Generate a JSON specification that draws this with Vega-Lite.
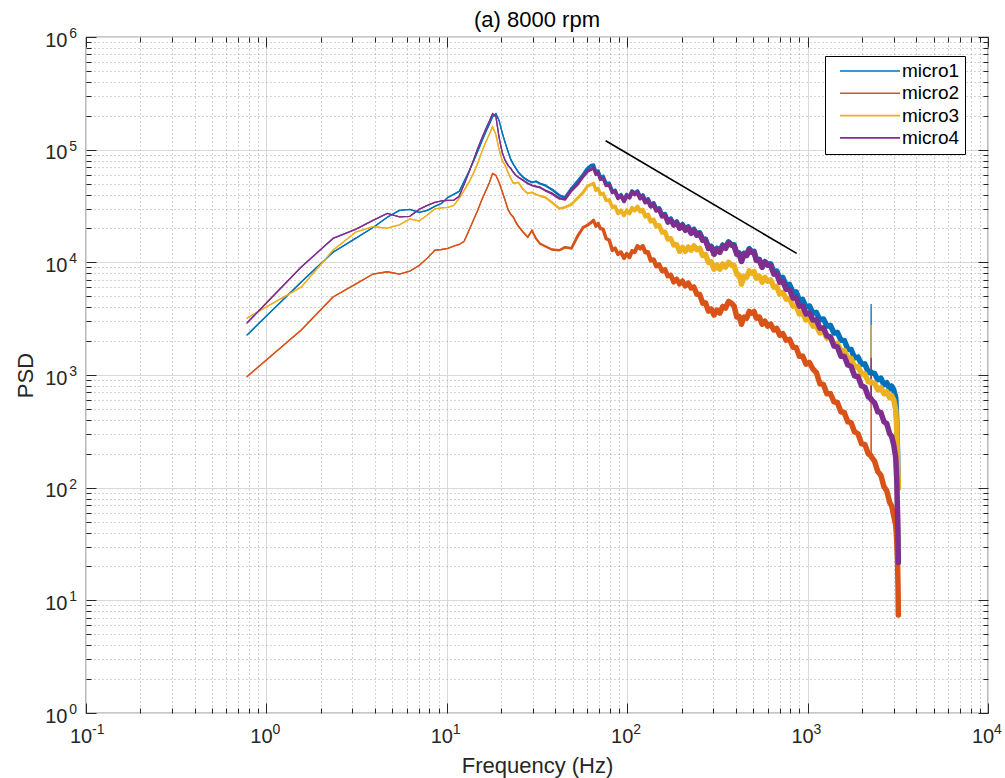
{
  "$schema": "https://vega.github.io/schema/vega-lite/v6.json",
  "width": 902,
  "height": 676,
  "autosize": {"type": "none"},
  "padding": {"left": 86, "top": 37, "right": 17, "bottom": 65},
  "background": "white",
  "config": {
    "view": {"stroke": "#262626", "strokeWidth": 1.2},
    "font": "Liberation Sans",
    "axis": {"domain": false, "labelFont": "Liberation Sans", "titleFont": "Liberation Sans", "labelColor": "#262626", "titleColor": "#262626", "tickColor": "#262626", "titleFontWeight": "normal", "labelFlush": false, "labelOverlap": false}
  },
  "title": {"text": "(a) 8000 rpm", "fontSize": 22, "fontWeight": "normal", "color": "#000000", "offset": -5, "font": "Liberation Sans"},
  "datasets": {
    "psd": [
      {"f":0.78,"micro1":2260,"micro2":965,"micro3":3200,"micro4":2890},
      {"f":1.56,"micro1":6680,"micro2":2510,"micro3":6030,"micro4":9080},
      {"f":2.34,"micro1":12300,"micro2":4920,"micro3":12800,"micro4":16300},
      {"f":3.12,"micro1":16300,"micro2":6410,"micro3":18500,"micro4":19600},
      {"f":3.90,"micro1":20400,"micro2":7870,"micro3":20700,"micro4":23600},
      {"f":4.68,"micro1":25100,"micro2":8250,"micro3":20100,"micro4":27200},
      {"f":5.46,"micro1":28900,"micro2":7870,"micro3":21500,"micro4":25300},
      {"f":6.24,"micro1":29500,"micro2":8370,"micro3":24300,"micro4":25600},
      {"f":7.02,"micro1":27800,"micro2":9360,"micro3":23300,"micro4":29500},
      {"f":7.80,"micro1":28900,"micro2":10900,"micro3":26300,"micro4":32000},
      {"f":8.58,"micro1":31400,"micro2":12800,"micro3":29800,"micro4":34100},
      {"f":9.36,"micro1":33400,"micro2":13000,"micro3":30400,"micro4":35100},
      {"f":10.14,"micro1":37700,"micro2":13300,"micro3":30800,"micro4":35500},
      {"f":10.92,"micro1":40100,"micro2":13900,"micro3":32000,"micro4":35500},
      {"f":11.70,"micro1":42600,"micro2":14400,"micro3":37000,"micro4":38500},
      {"f":12.48,"micro1":52300,"micro2":15400,"micro3":43500,"micro4":49200},
      {"f":13.26,"micro1":64100,"micro2":19200,"micro3":51200,"micro4":62900},
      {"f":14.04,"micro1":78700,"micro2":23600,"micro3":61600,"micro4":80300},
      {"f":14.82,"micro1":96500,"micro2":28900,"micro3":75500,"micro4":102000},
      {"f":15.60,"micro1":117800,"micro2":35500,"micro3":94600,"micro4":125200},
      {"f":16.38,"micro1":141500,"micro2":42600,"micro3":115400,"micro4":150500},
      {"f":17.16,"micro1":166600,"micro2":50200,"micro3":135800,"micro4":177200},
      {"f":17.94,"micro1":196200,"micro2":61600,"micro3":160000,"micro4":208600},
      {"f":18.72,"micro1":208600,"micro2":59100,"micro3":135800,"micro4":196200},
      {"f":19.50,"micro1":180800,"micro2":51200,"micro3":100000,"micro4":127800},
      {"f":20.28,"micro1":141500,"micro2":42600,"micro3":80300,"micro4":94600},
      {"f":21.06,"micro1":115400,"micro2":35500,"micro3":72500,"micro4":80300},
      {"f":21.84,"micro1":96500,"micro2":29500,"micro3":62900,"micro4":72500},
      {"f":22.62,"micro1":82000,"micro2":26700,"micro3":55600,"micro4":68200},
      {"f":23.40,"micro1":74000,"micro2":25100,"micro3":50200,"micro4":62900},
      {"f":24.18,"micro1":68200,"micro2":22600,"micro3":50700,"micro4":59100},
      {"f":24.96,"micro1":62900,"micro2":20900,"micro3":51200,"micro4":56800},
      {"f":26.52,"micro1":56800,"micro2":18500,"micro3":44400,"micro4":53400},
      {"f":28.08,"micro1":53400,"micro2":16700,"micro3":40900,"micro4":50200},
      {"f":29.64,"micro1":51200,"micro2":19200,"micro3":41800,"micro4":48200},
      {"f":31.2,"micro1":52300,"micro2":16300,"micro3":40100,"micro4":47200},
      {"f":32.76,"micro1":50200,"micro2":14700,"micro3":38900,"micro4":46300},
      {"f":35.1,"micro1":48200,"micro2":13900,"micro3":37700,"micro4":43500},
      {"f":38.2,"micro1":44400,"micro2":13000,"micro3":34100,"micro4":40900},
      {"f":42.1,"micro1":39300,"micro2":12800,"micro3":30100,"micro4":37000},
      {"f":45.2,"micro1":37700,"micro2":13600,"micro3":30800,"micro4":36200},
      {"f":49.1,"micro1":45300,"micro2":13300,"micro3":32700,"micro4":43500},
      {"f":53.0,"micro1":52300,"micro2":17000,"micro3":37000,"micro4":49200},
      {"f":57.0,"micro1":60300,"micro2":20400,"micro3":41800,"micro4":57900},
      {"f":60.1,"micro1":68200,"micro2":21300,"micro3":47200,"micro4":64100},
      {"f":63.2,"micro1":72500,"micro2":22600,"micro3":49200,"micro4":66800},
      {"f":65.1,"micro1":73300,"micro2":23600,"micro3":50200,"micro4":68900},
      {"f":67.1,"micro1":62900,"micro2":20900,"micro3":43500,"micro4":60300},
      {"f":69.0,"micro1":64800,"micro2":22100,"micro3":45300,"micro4":62200},
      {"f":71.0,"micro1":56800,"micro2":20000,"micro3":40100,"micro4":54500},
      {"f":73.6,"micro1":57900,"micro2":19600,"micro3":40900,"micro4":55600},
      {"f":76.4,"micro1":50200,"micro2":16300,"micro3":35500,"micro4":48200},
      {"f":79.5,"micro1":50200,"micro2":15700,"micro3":35800,"micro4":48700},
      {"f":82.7,"micro1":42600,"micro2":12800,"micro3":30800,"micro4":41800},
      {"f":85.7,"micro1":43500,"micro2":13300,"micro3":31400,"micro4":42600},
      {"f":88.9,"micro1":37700,"micro2":11800,"micro3":27200,"micro4":37000},
      {"f":92.4,"micro1":39700,"micro2":12300,"micro3":28900,"micro4":38900},
      {"f":96.0,"micro1":35500,"micro2":10900,"micro3":26100,"micro4":34800},
      {"f":99.4,"micro1":39700,"micro2":11900,"micro3":28900,"micro4":39300},
      {"f":103,"micro1":37700,"micro2":11100,"micro3":27200,"micro4":37700},
      {"f":106.4,"micro1":42600,"micro2":12600,"micro3":30400,"micro4":42200},
      {"f":110,"micro1":40900,"micro2":12300,"micro3":28900,"micro4":40100},
      {"f":114,"micro1":42600,"micro2":13900,"micro3":31100,"micro4":41800},
      {"f":118,"micro1":37700,"micro2":13300,"micro3":28300,"micro4":37000},
      {"f":122,"micro1":39300,"micro2":13900,"micro3":29200,"micro4":38500},
      {"f":126,"micro1":34800,"micro2":12300,"micro3":25600,"micro4":34100},
      {"f":130.4,"micro1":36200,"micro2":12300,"micro3":26400,"micro4":35500},
      {"f":135,"micro1":32000,"micro2":10400,"micro3":23100,"micro4":31400},
      {"f":140,"micro1":33400,"micro2":10600,"micro3":23800,"micro4":32700},
      {"f":145,"micro1":29500,"micro2":9260,"micro3":20900,"micro4":28900},
      {"f":150.4,"micro1":30100,"micro2":9550,"micro3":21300,"micro4":29500},
      {"f":156,"micro1":26100,"micro2":8370,"micro3":18500,"micro4":25600},
      {"f":162,"micro1":26700,"micro2":8630,"micro3":18600,"micro4":26100},
      {"f":168,"micro1":23100,"micro2":7550,"micro3":16000,"micro4":22600},
      {"f":174.4,"micro1":24300,"micro2":7710,"micro3":16300,"micro4":23800},
      {"f":181,"micro1":21700,"micro2":6680,"micro3":14200,"micro4":21300},
      {"f":188,"micro1":22900,"micro2":7100,"micro3":14400,"micro4":22400},
      {"f":195,"micro1":20400,"micro2":6410,"micro3":12500,"micro4":20000},
      {"f":202.4,"micro1":21700,"micro2":6820,"micro3":13600,"micro4":21300},
      {"f":210,"micro1":19600,"micro2":6160,"micro3":12500,"micro4":19200},
      {"f":218,"micro1":20700,"micro2":6550,"micro3":13700,"micro4":20200},
      {"f":226,"micro1":18500,"micro2":5910,"micro3":12800,"micro4":18100},
      {"f":234.3,"micro1":19600,"micro2":6030,"micro3":14000,"micro4":19200},
      {"f":243,"micro1":17700,"micro2":5230,"micro3":13000,"micro4":17400},
      {"f":252.3,"micro1":18300,"micro2":5180,"micro3":13300,"micro4":17900},
      {"f":262,"micro1":16000,"micro2":4350,"micro3":11500,"micro4":15700},
      {"f":271.8,"micro1":16000,"micro2":4350,"micro3":11700,"micro4":15700},
      {"f":282,"micro1":13600,"micro2":3700,"micro3":10000,"micro4":13300},
      {"f":292.3,"micro1":13900,"micro2":3850,"micro3":10100,"micro4":13600},
      {"f":303,"micro1":12000,"micro2":3410,"micro3":8710,"micro4":11800},
      {"f":314.3,"micro1":13300,"micro2":3770,"micro3":9460,"micro4":13000},
      {"f":326,"micro1":12500,"micro2":3550,"micro3":8710,"micro4":12300},
      {"f":338.3,"micro1":14200,"micro2":4050,"micro3":9650,"micro4":13900},
      {"f":351,"micro1":13600,"micro2":3930,"micro3":9080,"micro4":13300},
      {"f":364.3,"micro1":15200,"micro2":4490,"micro3":10000,"micro4":14900},
      {"f":378,"micro1":14400,"micro2":4350,"micro3":9460,"micro4":14200},
      {"f":391.3,"micro1":14300,"micro2":4090,"micro3":9360,"micro4":14000},
      {"f":405,"micro1":12000,"micro2":3270,"micro3":7870,"micro4":11800},
      {"f":417.3,"micro1":12100,"micro2":3300,"micro3":7710,"micro4":11900},
      {"f":430,"micro1":10400,"micro2":2830,"micro3":6410,"micro4":10200},
      {"f":444.8,"micro1":12000,"micro2":3270,"micro3":7480,"micro4":11800},
      {"f":460,"micro1":11800,"micro2":3200,"micro3":7400,"micro4":11500},
      {"f":474.8,"micro1":13200,"micro2":3660,"micro3":8370,"micro4":12900},
      {"f":490,"micro1":12500,"micro2":3550,"micro3":8030,"micro4":12300},
      {"f":504.8,"micro1":12500,"micro2":3660,"micro3":8280,"micro4":12300},
      {"f":520,"micro1":10600,"micro2":3200,"micro3":7250,"micro4":10400},
      {"f":539.7,"micro1":10600,"micro2":3270,"micro3":7550,"micro4":10500},
      {"f":560,"micro1":9080,"micro2":2830,"micro3":6680,"micro4":9080},
      {"f":579.7,"micro1":10150,"micro2":3010,"micro3":7330,"micro4":10000},
      {"f":600,"micro1":9650,"micro2":2720,"micro3":6820,"micro4":9460},
      {"f":624.5,"micro1":9650,"micro2":2830,"micro3":6960,"micro4":9360},
      {"f":650,"micro1":8200,"micro2":2510,"micro3":6030,"micro4":7870},
      {"f":674.6,"micro1":8370,"micro2":2590,"micro3":6100,"micro4":7870},
      {"f":700,"micro1":7250,"micro2":2260,"micro3":5230,"micro4":6680},
      {"f":729.4,"micro1":7330,"micro2":2330,"micro3":5390,"micro4":6750},
      {"f":760,"micro1":6290,"micro2":2040,"micro3":4720,"micro4":5790},
      {"f":794.2,"micro1":6350,"micro2":2070,"micro3":4770,"micro4":5730},
      {"f":830,"micro1":5450,"micro2":1770,"micro3":4090,"micro4":4820},
      {"f":864.3,"micro1":5450,"micro2":1750,"micro3":4090,"micro4":4820},
      {"f":900,"micro1":4630,"micro2":1470,"micro3":3480,"micro4":4090},
      {"f":939.1,"micro1":4670,"micro2":1470,"micro3":3550,"micro4":4090},
      {"f":980,"micro1":4010,"micro2":1250,"micro3":3080,"micro4":3480},
      {"f":1024,"micro1":4090,"micro2":1290,"micro3":3140,"micro4":3550},
      {"f":1070,"micro1":3550,"micro2":1130,"micro3":2720,"micro4":3080},
      {"f":1119,"micro1":3580,"micro2":1050,"micro3":2750,"micro4":3080},
      {"f":1170,"micro1":3080,"micro2":837,"micro3":2360,"micro4":2610},
      {"f":1224,"micro1":3140,"micro2":820,"micro3":2430,"micro4":2610},
      {"f":1280,"micro1":2720,"micro2":682,"micro3":2130,"micro4":2220},
      {"f":1339,"micro1":2750,"micro2":682,"micro3":2170,"micro4":2170},
      {"f":1400,"micro1":2360,"micro2":579,"micro3":1880,"micro4":1810},
      {"f":1464,"micro1":2380,"micro2":568,"micro3":1900,"micro4":1770},
      {"f":1530,"micro1":2040,"micro2":472,"micro3":1630,"micro4":1470},
      {"f":1598,"micro1":2020,"micro2":463,"micro3":1650,"micro4":1460},
      {"f":1670,"micro1":1700,"micro2":385,"micro3":1420,"micro4":1230},
      {"f":1743,"micro1":1680,"micro2":377,"micro3":1400,"micro4":1190},
      {"f":1820,"micro1":1420,"micro2":314,"micro3":1180,"micro4":985},
      {"f":1903,"micro1":1440,"micro2":301,"micro3":1190,"micro4":965},
      {"f":1990,"micro1":1250,"micro2":246,"micro3":1020,"micro4":803},
      {"f":2078,"micro1":1250,"micro2":241,"micro3":1020,"micro4":779},
      {"f":2170,"micro1":1060,"micro2":200,"micro3":871,"micro4":641},
      {"f":2245,"micro1":1060,"micro2":192,"micro3":871,"micro4":616},
      {"f":2250,"micro1":4260,"micro2":965,"micro3":2780,"micro4":1420},
      {"f":2255,"micro1":1040,"micro2":188,"micro3":854,"micro4":603},
      {"f":2350,"micro1":1030,"micro2":172,"micro3":845,"micro4":568},
      {"f":2450,"micro1":908,"micro2":139,"micro3":740,"micro4":472},
      {"f":2548,"micro1":936,"micro2":129,"micro3":771,"micro4":463},
      {"f":2650,"micro1":820,"micro2":102,"micro3":682,"micro4":385},
      {"f":2748,"micro1":854,"micro2":93.6,"micro3":710,"micro4":370},
      {"f":2850,"micro1":755,"micro2":74.0,"micro3":629,"micro4":301},
      {"f":2924,"micro1":795,"micro2":68.9,"micro3":655,"micro4":286},
      {"f":3000,"micro1":740,"micro2":56.7,"micro3":603,"micro4":241},
      {"f":3080,"micro1":629,"micro2":46.3,"micro3":492,"micro4":185},
      {"f":3120,"micro1":401,"micro2":34.1,"micro3":327,"micro4":118},
      {"f":3150,"micro1":217,"micro2":22.6,"micro3":177,"micro4":62.9},
      {"f":3170,"micro1":118,"micro2":13.6,"micro3":130,"micro4":41.8},
      {"f":3185,"micro1":100,"micro2":7.4,"micro3":100,"micro4":21.7}
    ],
    "ref": [
      {"f":76,"p":120000},
      {"f":870,"p":12000}
    ],
    "dummy": [{"a":1,"b":1}],
    "xexp": [
      {"v":0.1,"e":"-1"},{"v":1,"e":"0"},{"v":10,"e":"1"},{"v":100,"e":"2"},{"v":1000,"e":"3"},{"v":10000,"e":"4"}
    ],
    "yexp": [
      {"v":1,"e":"0"},{"v":10,"e":"1"},{"v":100,"e":"2"},{"v":1000,"e":"3"},{"v":10000,"e":"4"},{"v":100000,"e":"5"},{"v":1000000,"e":"6"}
    ]
  },
  "layer": [
    {
      "data": {"name": "dummy"},
      "mark": {"type": "point", "opacity": 0},
      "encoding": {
        "x": {"field": "a", "type": "quantitative", "scale": {"type": "log", "domain": [0.1, 10000], "nice": false},
          "axis": {"orient": "bottom", "values": [0.2,0.3,0.4,0.5,0.6,0.7,0.8,0.9,2,3,4,5,6,7,8,9,20,30,40,50,60,70,80,90,200,300,400,500,600,700,800,900,2000,3000,4000,5000,6000,7000,8000,9000], "labels": false, "tickSize": -5, "tickWidth": 1, "grid": true, "gridDash": [1,3], "gridColor": "#a6a6a6", "gridWidth": 1, "title": null}},
        "y": {"field": "b", "type": "quantitative", "scale": {"type": "log", "domain": [1, 1000000], "nice": false},
          "axis": {"orient": "left", "values": [2,3,4,5,6,7,8,9,20,30,40,50,60,70,80,90,200,300,400,500,600,700,800,900,2000,3000,4000,5000,6000,7000,8000,9000,20000,30000,40000,50000,60000,70000,80000,90000,200000,300000,400000,500000,600000,700000,800000,900000], "labels": false, "tickSize": -5, "tickWidth": 1, "grid": true, "gridDash": [1,3], "gridColor": "#a6a6a6", "gridWidth": 1, "title": null}}
      }
    },
    {
      "data": {"name": "psd"},
      "transform": [{"fold": ["micro1", "micro2", "micro3", "micro4"], "as": ["series", "psd"]}],
      "mark": {"type": "line", "strokeWidth": 1.3},
      "encoding": {
        "x": {"field": "f", "type": "quantitative", "scale": {"type": "log", "domain": [0.1, 10000], "nice": false},
          "axis": {"orient": "bottom", "values": [0.1,1,10,100,1000,10000], "labelExpr": "'10'", "ticks": false, "labelPadding": 13, "labelFontSize": 20, "labelOffset": -5.5, "grid": true, "gridColor": "#d9d9d9", "gridWidth": 1, "title": "Frequency (Hz)", "titleFontSize": 22, "titlePadding": 9}},
        "y": {"field": "psd", "type": "quantitative", "scale": {"type": "log", "domain": [1, 1000000], "nice": false},
          "axis": {"orient": "left", "values": [1,10,100,1000,10000,100000,1000000], "labelExpr": "'10'", "ticks": false, "labelPadding": 19, "labelFontSize": 20, "labelOffset": 3, "grid": true, "gridColor": "#d9d9d9", "gridWidth": 1, "title": "PSD", "titleFontSize": 22, "titlePadding": 7}},
        "color": {"field": "series", "type": "nominal",
          "scale": {"domain": ["micro1", "micro2", "micro3", "micro4"], "range": ["#0072BD", "#D95319", "#EDB120", "#7E2F8E"]},
          "legend": {"title": null, "orient": "none", "legendX": 739, "legendY": 19, "symbolType": "M-6,0H6", "symbolSize": 100, "symbolStrokeWidth": 1.6, "symbolOffset": 30, "labelOffset": 22.5, "labelFontSize": 19, "labelFont": "Liberation Sans", "labelColor": "#000000", "rowPadding": 2.3, "padding": 5.5, "strokeColor": "#000000", "fillColor": "#ffffff", "labelLimit": 0, "symbolOpacity": 1}}
      }
    },
    {
      "data": {"name": "psd"},
      "transform": [{"fold": ["micro1", "micro2", "micro3", "micro4"], "as": ["series", "psd"]}, {"filter": "datum.f != 2250"}],
      "mark": {"type": "trail"},
      "encoding": {
        "x": {"field": "f", "type": "quantitative", "scale": {"type": "log", "domain": [0.1, 10000], "nice": false}, "axis": null},
        "y": {"field": "psd", "type": "quantitative", "scale": {"type": "log", "domain": [1, 1000000], "nice": false}, "axis": null},
        "color": {"field": "series", "type": "nominal",
          "scale": {"domain": ["micro1", "micro2", "micro3", "micro4"], "range": ["#0072BD", "#D95319", "#EDB120", "#7E2F8E"]}},
        "size": {"field": "f", "type": "quantitative", "scale": {"type": "log", "domain": [20, 250], "range": [1.3, 5.5], "clamp": true}, "legend": null}
      }
    },
    {
      "data": {"name": "ref"},
      "mark": {"type": "line", "color": "#000000", "strokeWidth": 1.6},
      "encoding": {
        "x": {"field": "f", "type": "quantitative", "scale": {"type": "log", "domain": [0.1, 10000], "nice": false}, "axis": null},
        "y": {"field": "p", "type": "quantitative", "scale": {"type": "log", "domain": [1, 1000000], "nice": false}, "axis": null}
      }
    },
    {
      "data": {"name": "dummy"},
      "mark": {"type": "point", "opacity": 0},
      "encoding": {
        "x": {"field": "a", "type": "quantitative", "scale": {"type": "log", "domain": [0.1, 10000], "nice": false},
          "axis": {"orient": "bottom", "values": [0.1,1,10,100,1000,10000], "labels": false, "tickSize": -10, "tickWidth": 1, "grid": false, "title": null}},
        "y": {"field": "b", "type": "quantitative", "scale": {"type": "log", "domain": [1, 1000000], "nice": false},
          "axis": {"orient": "left", "values": [1,10,100,1000,10000,100000,1000000], "labels": false, "tickSize": -10, "tickWidth": 1, "grid": false, "title": null}}
      }
    },
    {
      "data": {"name": "dummy"},
      "mark": {"type": "point", "opacity": 0},
      "encoding": {
        "x": {"field": "a", "type": "quantitative", "scale": {"type": "log", "domain": [0.1, 10000], "nice": false},
          "axis": {"orient": "top", "values": [0.1,1,10,100,1000,10000], "labels": false, "tickSize": -10, "tickWidth": 1, "grid": false, "title": null}},
        "y": {"field": "b", "type": "quantitative", "scale": {"type": "log", "domain": [1, 1000000], "nice": false},
          "axis": {"orient": "right", "values": [1,10,100,1000,10000,100000,1000000], "labels": false, "tickSize": -10, "tickWidth": 1, "grid": false, "title": null}}
      }
    },
    {
      "data": {"name": "dummy"},
      "mark": {"type": "point", "opacity": 0},
      "encoding": {
        "x": {"field": "a", "type": "quantitative", "scale": {"type": "log", "domain": [0.1, 10000], "nice": false},
          "axis": {"orient": "top", "values": [0.2,0.3,0.4,0.5,0.6,0.7,0.8,0.9,2,3,4,5,6,7,8,9,20,30,40,50,60,70,80,90,200,300,400,500,600,700,800,900,2000,3000,4000,5000,6000,7000,8000,9000], "labels": false, "tickSize": -5, "tickWidth": 1, "grid": false, "title": null}},
        "y": {"field": "b", "type": "quantitative", "scale": {"type": "log", "domain": [1, 1000000], "nice": false},
          "axis": {"orient": "right", "values": [2,3,4,5,6,7,8,9,20,30,40,50,60,70,80,90,200,300,400,500,600,700,800,900,2000,3000,4000,5000,6000,7000,8000,9000,20000,30000,40000,50000,60000,70000,80000,90000,200000,300000,400000,500000,600000,700000,800000,900000], "labels": false, "tickSize": -5, "tickWidth": 1, "grid": false, "title": null}}
      }
    },
    {
      "data": {"name": "xexp"},
      "mark": {"type": "text", "align": "left", "baseline": "top", "dx": 6, "dy": 10, "fontSize": 14, "font": "Liberation Sans", "color": "#262626"},
      "encoding": {
        "x": {"field": "v", "type": "quantitative", "scale": {"type": "log", "domain": [0.1, 10000], "nice": false}, "axis": null},
        "y": {"datum": 1, "type": "quantitative", "scale": {"type": "log", "domain": [1, 1000000], "nice": false}, "axis": null},
        "text": {"field": "e", "type": "nominal"}
      }
    },
    {
      "data": {"name": "yexp"},
      "mark": {"type": "text", "align": "right", "baseline": "middle", "dx": -9, "dy": -3, "fontSize": 14, "font": "Liberation Sans", "color": "#262626"},
      "encoding": {
        "x": {"datum": 0.1, "type": "quantitative", "scale": {"type": "log", "domain": [0.1, 10000], "nice": false}, "axis": null},
        "y": {"field": "v", "type": "quantitative", "scale": {"type": "log", "domain": [1, 1000000], "nice": false}, "axis": null},
        "text": {"field": "e", "type": "nominal"}
      }
    }
  ],
  "resolve": {"axis": {"x": "independent", "y": "independent"}}
}
